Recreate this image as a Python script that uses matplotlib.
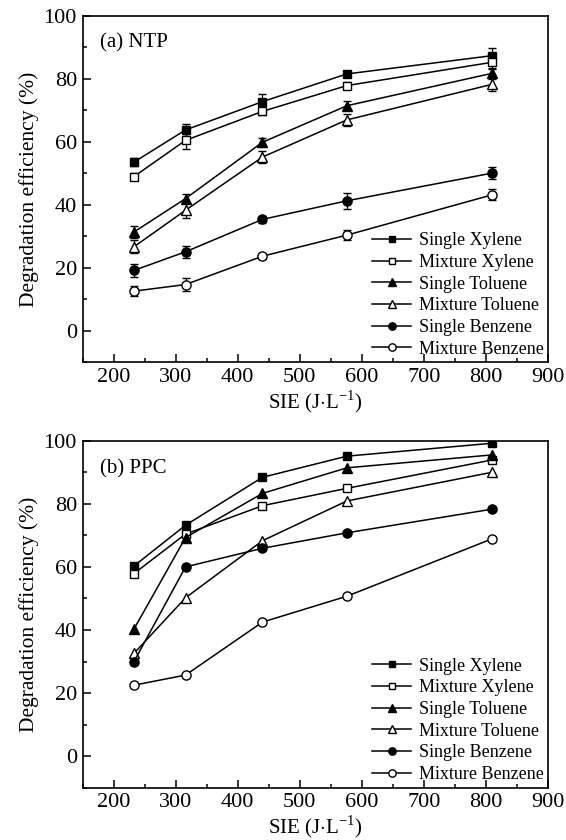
import matplotlib
matplotlib.use("Agg")
import matplotlib.pyplot as plt
from matplotlib.ticker import MultipleLocator
from matplotlib.lines import Line2D

plt.rcParams['font.family'] = ['Liberation Serif', 'DejaVu Serif']
plt.rcParams['mathtext.fontset'] = 'custom'
plt.rcParams['mathtext.rm'] = 'Liberation Serif'

sie = [233, 316, 440, 576, 810]
labels = ["Single Xylene", "Mixture Xylene", "Single Toluene",
          "Mixture Toluene", "Single Benzene", "Mixture Benzene"]
markers = ['s', 's', '^', '^', 'o', 'o']
filled = [True, False, True, False, True, False]

# (a) NTP
ntp_single_xylene = [53.6, 63.8, 72.8, 81.6, 87.4]
ntp_mixture_xylene = [49.0, 60.5, 69.7, 77.9, 85.3]
ntp_single_toluene = [31.4, 42.0, 59.9, 71.5, 81.8]
ntp_mixture_toluene = [26.7, 38.3, 55.2, 67.0, 78.3]
ntp_single_benzene = [19.2, 25.1, 35.4, 41.3, 50.1]
ntp_mixture_benzene = [12.6, 14.7, 23.7, 30.4, 43.2]

ntp_err_single_xylene = [1.2, 1.8, 2.5, 1.0, 2.5]
ntp_err_mixture_xylene = [1.0, 2.8, 1.2, 1.0, 2.0]
ntp_err_single_toluene = [1.8, 1.5, 1.2, 1.5, 1.8]
ntp_err_mixture_toluene = [2.0, 2.5, 2.0, 2.0, 2.0]
ntp_err_single_benzene = [2.0, 2.0, 1.2, 2.5, 2.0]
ntp_err_mixture_benzene = [1.5, 2.0, 0.8, 1.5, 1.8]

# (b) PPC
ppc_single_xylene = [60.3, 73.2, 88.4, 95.1, 99.2]
ppc_mixture_xylene = [57.9, 70.4, 79.4, 84.9, 93.9]
ppc_single_toluene = [40.3, 69.3, 83.3, 91.4, 95.5]
ppc_mixture_toluene = [32.6, 50.2, 68.3, 80.9, 90.0]
ppc_single_benzene = [30.0, 60.0, 65.9, 70.8, 78.3]
ppc_mixture_benzene = [22.5, 25.7, 42.5, 50.7, 68.9]

ntp = [ntp_single_xylene, ntp_mixture_xylene, ntp_single_toluene,
       ntp_mixture_toluene, ntp_single_benzene, ntp_mixture_benzene]
ntp_err = [ntp_err_single_xylene, ntp_err_mixture_xylene, ntp_err_single_toluene,
           ntp_err_mixture_toluene, ntp_err_single_benzene, ntp_err_mixture_benzene]
ppc = [ppc_single_xylene, ppc_mixture_xylene, ppc_single_toluene,
       ppc_mixture_toluene, ppc_single_benzene, ppc_mixture_benzene]

W, H = 566, 840
fig = plt.figure(figsize=(W / 100, H / 100), dpi=100)
L, R = 82.5, 548
ax1 = fig.add_axes([L / W, 1 - 362.3 / H, (R - L) / W, (362.3 - 16) / H])
ax2 = fig.add_axes([L / W, 1 - 787.7 / H, (R - L) / W, (787.7 - 440.7) / H])

msizes = {'s': 5.8, '^': 7.0, 'o': 6.6}


def style(ax, title, ty):
    ax.set_xlim(150, 900)
    ax.set_ylim(-10, 100)
    ax.set_xticks([200, 300, 400, 500, 600, 700, 800, 900])
    ax.xaxis.set_minor_locator(MultipleLocator(50))
    ax.yaxis.set_major_locator(MultipleLocator(20))
    ax.yaxis.set_minor_locator(MultipleLocator(10))
    ax.tick_params(which='both', direction='in', top=False, right=False,
                   labelsize=16, width=1.1)
    ax.tick_params(which='major', length=5.8, pad=4)
    ax.tick_params(which='minor', length=3)
    for s in ax.spines.values():
        s.set_linewidth(1.2)
    ax.set_xlabel(r'SIE (J$\cdot$L$^{-1}$)', fontsize=15, labelpad=1)
    ax.set_ylabel('Degradation efficiency (%)', fontsize=15.5, labelpad=3)
    ax.text(0.0376, ty, title, transform=ax.transAxes, fontsize=15,
            va='center', ha='left')


for ax, data, errs, title, ty in [(ax1, ntp, ntp_err, '(a) NTP', 0.921),
                                  (ax2, ppc, None, '(b) PPC', 0.9176)]:
    handles = []
    for i in range(6):
        fc = 'black' if filled[i] else 'white'
        ms = msizes[markers[i]]
        if errs is not None:
            ax.errorbar(sie, data[i], yerr=errs[i], color='black', lw=1.1,
                        marker=markers[i], ms=ms, mfc=fc, mec='black', mew=1.0,
                        capsize=3, elinewidth=0.9, capthick=0.9)
        else:
            ax.plot(sie, data[i], color='black', lw=1.1, marker=markers[i],
                    ms=ms, mfc=fc, mec='black', mew=1.0)
        handles.append(Line2D([], [], color='black', lw=1.1, marker=markers[i],
                              ms=ms * 0.8, mfc=fc, mec='black', mew=1.0))
    style(ax, title, ty)
    ax.legend(handles, labels, loc='lower right', frameon=False,
              fontsize=13, handlelength=2.15, handletextpad=0.42,
              labelspacing=0.26, borderaxespad=0.1, borderpad=0.15)

fig.savefig('out.png', dpi=100)
